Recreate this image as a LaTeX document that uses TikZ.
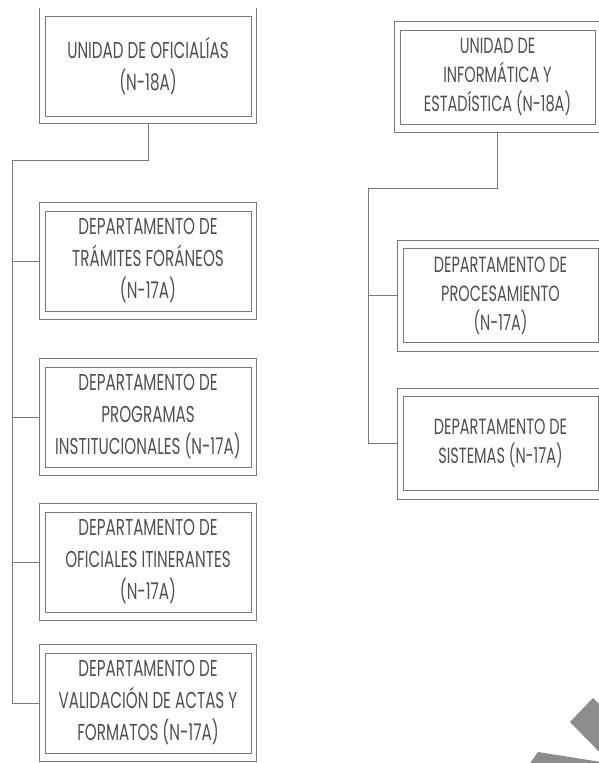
\documentclass[tikz,border=0pt]{standalone}
\usepackage{fontspec}
\setmainfont{Poppins}[FakeStretch=0.66]
\usepackage{tikz}
\usetikzlibrary{positioning,fit,calc}
\definecolor{linec}{HTML}{7A7A7A}
\definecolor{txtc}{HTML}{505050}
\definecolor{shadec}{HTML}{8C8C8C}

\begin{document}
\begin{tikzpicture}[
    x=1pt, y=-1pt,
    box/.style={draw=linec, line width=0.9pt, minimum height=100pt, inner sep=0pt,
                align=center, text=txtc, font=\fontsize{23}{32}\selectfont},
    lbox/.style={box, minimum width=206pt},
    rbox/.style={box, minimum width=195pt, minimum height=94pt, font=\fontsize{22}{29}\selectfont},
    frame/.style={draw=linec, line width=0.9pt, inner xsep=5pt, inner ysep=8pt},
    conn/.style={draw=linec, line width=0.9pt}
]
  \useasboundingbox (0,0) rectangle (599,763);

  % left column
  \node[lbox] (ofi) at (148,66) {UNIDAD DE OFICIALÍAS\\(N-18A)};
  \node[lbox] (tra) at (148,261) {DEPARTAMENTO DE\\TRÁMITES FORÁNEOS\\(N-17A)};
  \node[lbox] (pro) at (148,417) {DEPARTAMENTO DE\\PROGRAMAS\\INSTITUCIONALES (N-17A)};
  \node[lbox] (itin) at (148,562) {DEPARTAMENTO DE\\OFICIALES ITINERANTES\\(N-17A)};
  \node[lbox] (val) at (148,703) {DEPARTAMENTO DE\\VALIDACIÓN DE ACTAS Y\\FORMATOS (N-17A)};

  % right column
  \node[rbox] (inf) at (497.5,77) {UNIDAD DE\\INFORMÁTICA Y\\ESTADÍSTICA (N-18A)};
  \node[rbox] (proc) at (500.5,295.5) {DEPARTAMENTO DE\\PROCESAMIENTO\\(N-17A)};
  \node[rbox] (sis) at (500.5,443.5) {DEPARTAMENTO DE\\SISTEMAS (N-17A)};

  % outer frames
  \draw[conn] ([xshift=-5pt,yshift=8pt]ofi.north west) |- ([xshift=5pt,yshift=-7pt]ofi.south east)
    -- ([xshift=5pt,yshift=8pt]ofi.north east);
  \coordinate (ofi-s) at ([yshift=-7pt]ofi.south);
  \foreach \n in {tra,pro,itin,val,inf,proc,sis}
    \node[frame, fit=(\n)] (\n-o) {};

  % connectors
  \coordinate (lsp) at (12,160);
  \coordinate (rsp) at (368,188);
  \draw[conn] (ofi-s) |- (lsp) -- (lsp |- val-o.west) -- (val-o.west);
  \foreach \n in {tra,pro,itin}
    \draw[conn] (lsp |- \n-o.west) -- (\n-o.west);
  \draw[conn] (inf-o.south) |- (rsp) -- (rsp |- sis-o.west) -- (sis-o.west);
  \draw[conn] (rsp |- proc-o.west) -- (proc-o.west);

  % corner shapes
  \fill[shadec] (570,722) -- (593,698) -- (620,724) -- (620,773) -- cycle;
  \fill[shadec] (538,752) -- (620,765) -- (620,790) -- (511,790) -- cycle;
\end{tikzpicture}
\end{document}
